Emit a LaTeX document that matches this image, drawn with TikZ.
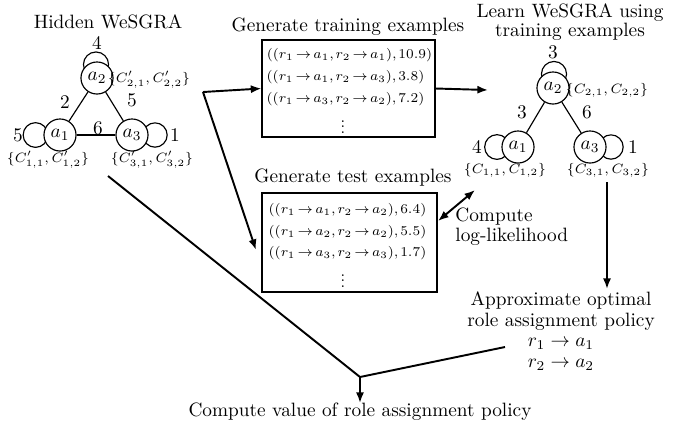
\documentclass[tikz,border=0pt]{standalone}
\usetikzlibrary{arrows.meta,backgrounds}
% slightly tighter relation and punctuation spacing for the example lines
\newcommand{\tightmath}{\thickmuskip=2.5mu\relax\thinmuskip=2mu\relax}
% compact vertical ellipsis
\newcommand{\smallvdots}{\vbox{\baselineskip=2.7pt\lineskiplimit=0pt\kern2pt\hbox{.}\hbox{.}\hbox{.}}}
\begin{document}
\begin{tikzpicture}[x=0.518pt,y=-0.518pt,
  agent/.style={circle,draw,fill=white,inner sep=0pt,minimum size=16.6pt,line width=0.6pt},
  thin line/.style={line width=0.6pt},
  cset/.style={font=\scriptsize,inner sep=0pt},
  num/.style={inner sep=0pt},
  exbox/.style={draw,line width=0.6pt,inner sep=0pt},
  exline/.style={font={\scriptsize\tightmath},inner sep=0pt},
  exdots/.style={font=\footnotesize,inner sep=0pt},
  title/.style={inner sep=0pt,align=center,font={\fontsize{10}{10.2}\selectfont}},
  flow/.style={line width=1pt,-{Latex[length=5.5pt,width=4.2pt]}},
  twoway/.style={line width=1pt,{Latex[length=5.5pt,width=4.2pt]}-{Latex[length=5.5pt,width=4.2pt]}},
  plain/.style={line width=1pt}]
\useasboundingbox (0,0) rectangle (694,426);

% ---------- hidden graph ----------
\node[title] (hid) at (108,22) {Hidden WeSGRA};
\node[agent] (h2) at (97,78) {$a_2$};
\node[agent] (h1) at (60,135) {$a_1$};
\node[agent] (h3) at (132,135) {$a_3$};
\draw[thin line] (h2) -- (h1);
\draw[thin line] (h2) -- (h3);
\draw[thin line] (h1) -- (h3);
\begin{scope}[on background layer]
  \draw[thin line] (h2.center) ++(-1,-13.5) circle[radius=6.5pt];
  \draw[thin line] (h1.center) ++(-24.5,0) circle[radius=6.4pt];
  \draw[thin line] (h3.center) ++(23,0) circle[radius=6.3pt];
\end{scope}
\node[num] (hl4) at (97,43) {4};
\node[num] (hl5) at (18,135) {5};
\node[num] (hl1) at (175,135) {1};
\node[num] (he2) at (65,102) {2};
\node[num] (he5) at (132,100) {5};
\node[num] (he6) at (98,128) {6};
\node[cset] (hc2) at (149,80) {$\{C'_{2,1},C'_{2,2}\}$};
\node[cset] (hc1) at (48,160) {$\{C'_{1,1},C'_{1,2}\}$};
\node[cset] (hc3) at (152,160) {$\{C'_{3,1},C'_{3,2}\}$};

% ---------- training examples ----------
\node[title] (gtr) at (348,27) {Generate training examples};
\node[exbox,minimum width=89.6pt,minimum height=50.2pt] (train) at (348.5,88.5) {};
\node[exline] (tr1) at (349.5,55) {$((r_1\to a_1,r_2\to a_1),10.9)$};
\node[exline] (tr2) at (345.5,77) {$((r_1\to a_1,r_2\to a_3),3.8)$};
\node[exline] (tr3) at (345.5,99) {$((r_1\to a_3,r_2\to a_2),7.2)$};
\node[exdots] (tr4) at (343,125) {\smallvdots};

% ---------- test examples ----------
\node[title] (gte) at (353,178) {Generate test examples};
\node[exbox,minimum width=90.7pt,minimum height=51.3pt] (test) at (349.5,242.5) {};
\node[exline] (te1) at (347.5,210) {$((r_1\to a_1,r_2\to a_2),6.4)$};
\node[exline] (te2) at (347.5,232) {$((r_1\to a_2,r_2\to a_2),5.5)$};
\node[exline] (te3) at (347.5,253) {$((r_1\to a_3,r_2\to a_3),1.7)$};
\node[exdots] (te4) at (343,279) {\smallvdots};

% ---------- learned graph ----------
\node[title] (lrn) at (570,22) {Learn WeSGRA using\\training examples};
\node[agent] (l2) at (553,88) {$a_2$};
\node[agent] (l1) at (518,147) {$a_1$};
\node[agent] (l3) at (590,147) {$a_3$};
\draw[thin line] (l2) -- (l1);
\draw[thin line] (l2) -- (l3);
\begin{scope}[on background layer]
  \draw[thin line] (l2.center) ++(1,-14) circle[radius=6.5pt];
  \draw[thin line] (l1.center) ++(-21,0) circle[radius=6.4pt];
  \draw[thin line] (l3.center) ++(21,0) circle[radius=6.3pt];
\end{scope}
\node[num] (ll3) at (553,52) {3};
\node[num] (ll4) at (477,147) {4};
\node[num] (ll1) at (633,147) {1};
\node[num] (le3) at (522,112) {3};
\node[num] (le6) at (587,112) {6};
\node[cset] (lc2) at (607,90) {$\{C_{2,1},C_{2,2}\}$};
\node[cset] (lc1) at (505,170) {$\{C_{1,1},C_{1,2}\}$};
\node[cset] (lc3) at (608,170) {$\{C_{3,1},C_{3,2}\}$};

% ---------- evaluation texts ----------
\node[title,align=left,anchor=west] (cll) at (455,227) {Compute\\log-likelihood};
\node[title,font={\fontsize{10}{10.6}\selectfont}] (approx) at (561,331)
  {Approximate optimal\\role assignment policy\\$r_1\to a_1$\\$r_2\to a_2$};
\node[title] (value) at (360,412) {Compute value of role assignment policy};

% ---------- flow connectors ----------
\coordinate (br) at (203,92);
\coordinate (tin) at (256,250);
\coordinate (lin) at (488,90);
\coordinate (llA) at (438,221);
\coordinate (llB) at (475,190);
\coordinate (vtop) at (607,182);
\coordinate (vend) at (607,289);
\coordinate (hs) at (108,176);
\coordinate (ps) at (505,347);
\coordinate (mg) at (360,377);
\coordinate (vin) at (360,403);

\draw[flow] (br) -- (train.west);
\draw[flow] (br) -- (tin);
\draw[flow] (train.east) -- (lin);
\draw[twoway] (llA) -- (llB);
\draw[flow] (vtop) -- (vend);
\draw[plain] (hs) -- (mg) -- (ps);
\draw[flow] (mg) -- (vin);
\end{tikzpicture}
\end{document}
